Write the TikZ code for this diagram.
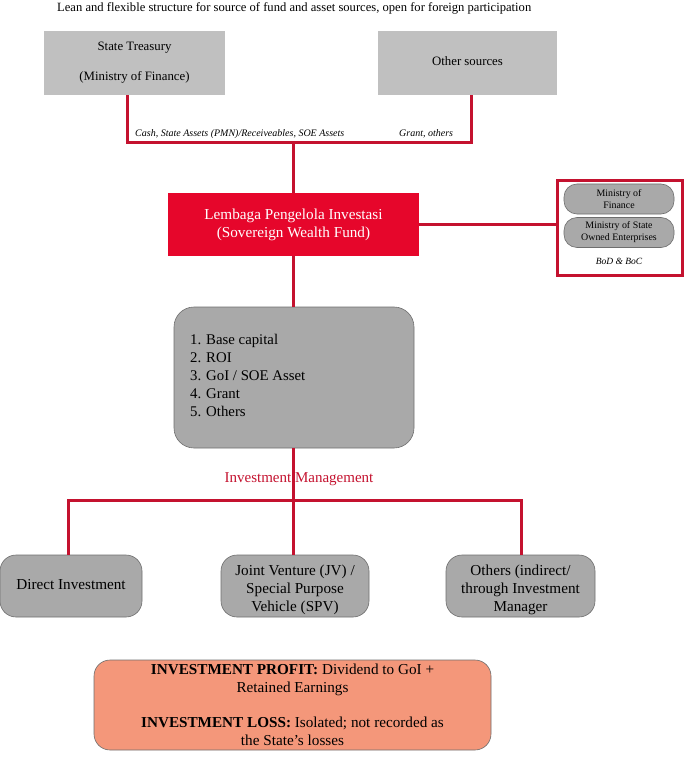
\documentclass[tikz,border=0pt]{standalone}
\usepackage{fontspec}
\setmainfont{Liberation Serif}
\definecolor{linered}{HTML}{C4122F}
\definecolor{lpired}{HTML}{E6062B}
\definecolor{lightgray}{HTML}{C0C0C0}
\definecolor{midgray}{HTML}{A9A9A9}
\definecolor{edgegray}{HTML}{6E6E6E}
\definecolor{salmon}{HTML}{F4977A}
\tikzset{
  conn/.style={draw=linered, line width=3pt},
  srcbox/.style={fill=lightgray, inner sep=0pt, minimum width=181pt, minimum height=64pt, align=center, font=\fontsize{12.8}{15}\selectfont},
  pill/.style={fill=midgray, draw=edgegray, line width=0.6pt, rounded corners=13pt, minimum width=110pt, minimum height=30pt, inner sep=0pt, align=center, font=\fontsize{9.9}{12}\selectfont},
  invbox/.style={fill=midgray, draw=edgegray, line width=0.6pt, rounded corners=16pt, minimum height=62pt, inner sep=0pt, align=center, font=\fontsize{15.2}{18}\selectfont},
  invtext/.style={inner sep=0pt, align=center, font=\fontsize{15.2}{18}\selectfont},
  lbl/.style={font=\fontsize{10}{12}\selectfont\itshape, inner sep=0pt},
}
\begin{document}
\begin{tikzpicture}[x=1pt,y=-1pt]
\useasboundingbox (0,0) rectangle (695,767);
% title
\node[anchor=west, inner sep=0pt, font=\fontsize{12.6}{14}\selectfont] (title) at (57,8) {Lean and flexible structure for source of fund and asset sources, open for foreign participation};
% sources
\node[srcbox] (st) at (134.5,63) {State Treasury\\[15pt](Ministry of Finance)};
\node[srcbox, minimum width=179pt] (os) at (467.5,63) {\raisebox{3pt}{Other sources}};
% junction coordinates
\coordinate (j1) at (293,143);
\coordinate (stc) at (127,143);
\coordinate (osc) at (471,143);
% LPI
\node[fill=lpired, text=white, minimum width=251pt, minimum height=63pt, inner sep=0pt, align=center, font=\fontsize{15.2}{18}\selectfont] (lpi) at (293.5,224.5) {Lembaga Pengelola Investasi\\(Sovereign Wealth Fund)};
% connectors top
\draw[conn] (st.south -| stc) -- (stc) -- (osc) -- (os.south -| osc);
\draw[conn] (j1) -- (lpi.north -| j1);
\node[lbl, anchor=base west] (cashl) at (135,137) {Cash, State Assets (PMN)/Receiveables, SOE Assets};
\node[lbl, anchor=base west] (grantl) at (399,137) {Grant, others};
% governance box
\node[draw=linered, line width=3pt, fill=white, minimum width=125pt, minimum height=94pt, inner sep=0pt] (gov) at (619.5,228) {};
\node[pill] (mof) at (619,199) {Ministry of\\Finance};
\node[pill] (mose) at (619,232.5) {Ministry of State\\Owned Enterprises};
\node[lbl, font=\fontsize{9.5}{11}\selectfont\itshape] (bod) at (619,261) {BoD \& BoC};
\draw[conn] (lpi.east) -- (gov.west |- lpi.east);
% capital box
\node[fill=midgray, draw=edgegray, line width=0.6pt, rounded corners=20pt, minimum width=240pt, minimum height=141pt, inner sep=0pt] (cap) at (294,377.5) {};
\node[anchor=north west, align=left, inner sep=0pt, font=\fontsize{14.8}{18}\selectfont] (caplist) at (190,334) {1. Base capital\\2. ROI\\3. GoI / SOE Asset\\4. Grant\\5. Others};
\draw[conn] (lpi.south -| j1) -- (cap.north -| j1);
% investment management
\coordinate (j2) at (293,500);
\coordinate (dic) at (68,500);
\coordinate (otc) at (521,500);
\draw[conn] (cap.south -| j2) -- (j2);
\node[text=linered, font=\fontsize{15}{17}\selectfont, inner sep=0pt] (iml) at (299,479) {Investment Management};
\node[invbox, minimum width=142pt] (di) at (71,586) {\raisebox{3pt}{Direct Investment}};
\node[invbox, minimum width=148pt] (jv) at (295,586) {};
\node[invtext] (jvt) at ([yshift=-4pt]jv.center) {Joint Venture (JV) /\\Special Purpose\\Vehicle (SPV)};
\node[invbox, minimum width=149pt] (ot) at (520.5,586) {};
\node[invtext] (ott) at ([yshift=-4pt]ot.center) {Others (indirect/\\through Investment\\Manager};
\draw[conn] (di.north -| dic) -- (dic) -- (otc) -- (ot.north -| otc);
\draw[conn] (j2) -- (jv.north -| j2);
% profit box
\node[fill=salmon, draw=edgegray, line width=0.6pt, rounded corners=16pt, minimum width=397pt, minimum height=90pt, inner sep=0pt, align=center, font=\fontsize{15.2}{18}\selectfont] (pl) at (292.5,705) {\textbf{INVESTMENT PROFIT:} Dividend to GoI +\\Retained Earnings\\[17pt]\textbf{INVESTMENT LOSS:} Isolated; not recorded as\\the State’s losses};
\end{tikzpicture}
\end{document}
